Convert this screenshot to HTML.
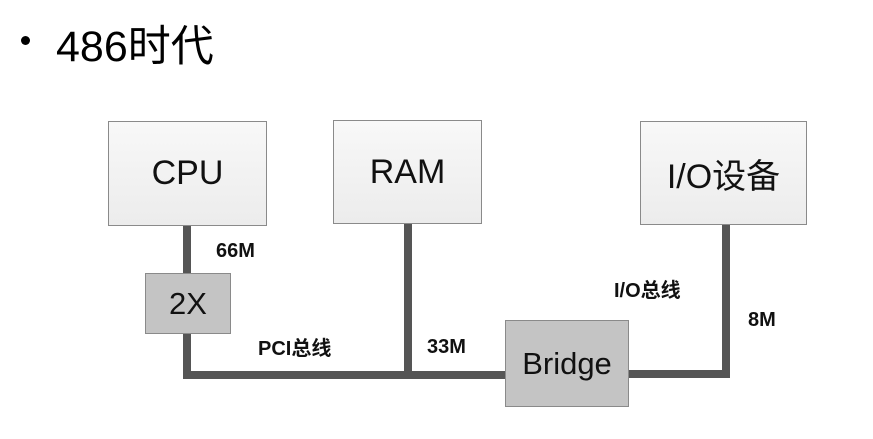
<!DOCTYPE html>
<html><head><meta charset="utf-8"><style>
html,body{margin:0;padding:0;background:#fff;width:873px;height:439px;overflow:hidden;position:relative;font-family:"Liberation Sans","Noto Sans CJK SC",sans-serif;}
.a{position:absolute;}
.box{position:absolute;box-sizing:border-box;border:1.5px solid #8a8a8a;display:flex;align-items:center;justify-content:center;color:#111;}
.light{background:linear-gradient(#f8f8f8,#ececec);font-size:34px;}
.dark{background:#c4c4c4;font-size:31px;}
.ln{position:absolute;background:#555;}
.lb{position:absolute;font-weight:bold;font-size:20px;color:#111;white-space:nowrap;}
</style></head><body>
<div class="a" style="left:21px;top:36px;width:9px;height:9px;border-radius:50%;background:#000"></div>
<div class="a" style="left:56px;top:12px;font-size:43px;color:#000;white-space:nowrap">486时代</div>

<div class="ln" style="left:183px;top:226px;width:8px;height:48px"></div>
<div class="ln" style="left:183px;top:333px;width:8px;height:46px"></div>
<div class="ln" style="left:183px;top:371px;width:323px;height:8px"></div>
<div class="ln" style="left:404px;top:224px;width:8px;height:152px"></div>
<div class="ln" style="left:722px;top:225px;width:8px;height:153px"></div>
<div class="ln" style="left:627px;top:370px;width:103px;height:8px"></div>

<div class="box light" style="left:108px;top:121px;width:159px;height:105px">CPU</div>
<div class="box light" style="left:333px;top:120px;width:149px;height:104px">RAM</div>
<div class="box light" style="left:640px;top:121px;width:167px;height:104px">I/O设备</div>
<div class="box dark" style="left:145px;top:273px;width:86px;height:61px">2X</div>
<div class="box dark" style="left:505px;top:320px;width:124px;height:87px">Bridge</div>

<div class="lb" style="left:216px;top:240px">66M</div>
<div class="lb" style="left:258px;top:332px">PCI总线</div>
<div class="lb" style="left:427px;top:336px">33M</div>
<div class="lb" style="left:614px;top:274px">I/O总线</div>
<div class="lb" style="left:748px;top:309px">8M</div>
</body></html>
